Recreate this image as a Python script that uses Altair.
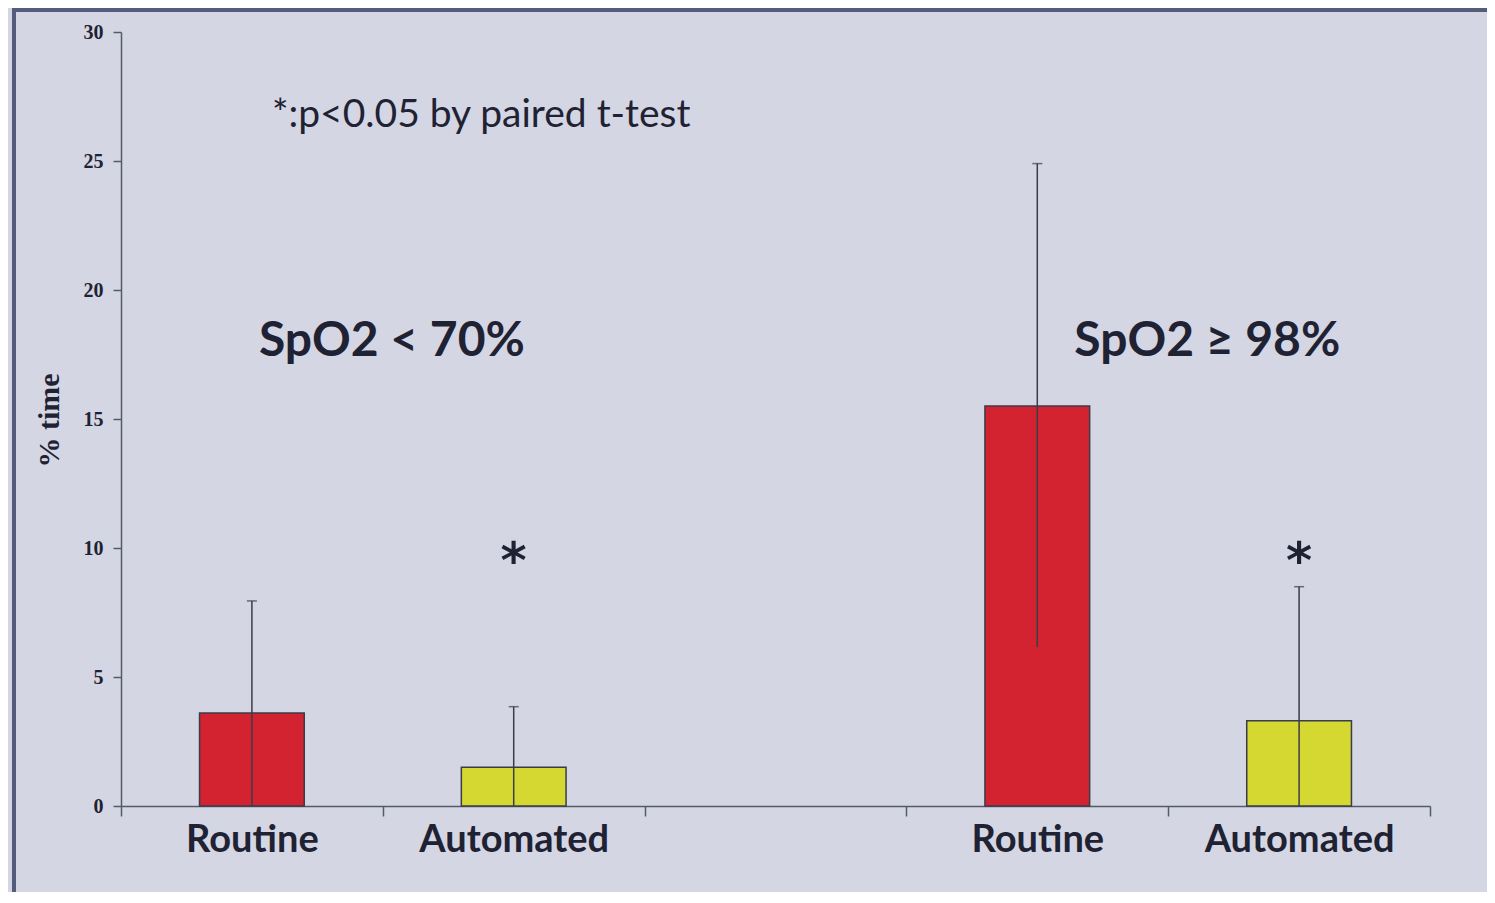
import altair as alt
import pandas as pd

# ---- data ----
cat_ids = ["R1", "A1", "G", "R2", "A2"]
bar_cats = ["R1", "A1", "R2", "A2"]
bar_groups = ["Routine", "Automated", "Routine", "Automated"]
means = [3.6, 1.5, 15.5, 3.3]
err_lo = [0.0, 0.0, 6.15, 0.0]
err_hi = [7.95, 3.85, 24.9, 8.5]

star_cats = ["A1", "A2"]
star_y = [9.9, 9.9]

left_label = ["SpO2 < 70%"]
left_cat = ["R1"]
right_label = ["SpO2 \u2265 98%"]
right_cat = ["R2"]
label_y = [18.0]

note_text = ["*:p<0.05 by paired t-test"]
note_cat = ["R1"]
note_y = [26.8]

BG = "#D4D6E3"
INK = "#1F2233"
AXIS = "#555A6A"

bars_df = pd.DataFrame({"cat": bar_cats, "group": bar_groups, "mean": means,
                        "lo": err_lo, "hi": err_hi})
stars_df = pd.DataFrame({"cat": star_cats, "y": star_y})
lab_l_df = pd.DataFrame({"cat": left_cat, "text": left_label, "y": label_y})
lab_r_df = pd.DataFrame({"cat": right_cat, "text": right_label, "y": label_y})
note_df = pd.DataFrame({"cat": note_cat, "text": note_text, "y": note_y})

x_scale = alt.Scale(domain=cat_ids, paddingInner=0, paddingOuter=0)
y_scale = alt.Scale(domain=[0, 30], nice=False)

label_expr = ("datum.value == 'R1' || datum.value == 'R2' ? 'Routine' : "
              "(datum.value == 'A1' || datum.value == 'A2' ? 'Automated' : '')")

x_enc = alt.X("cat:N", scale=x_scale, sort=cat_ids,
              axis=alt.Axis(title=None, labelExpr=label_expr, tickBand="extent",
                            labelFont="Lato", labelFontWeight="bold", labelFontSize=38,
                            labelColor=INK, labelPadding=5, tickSize=10, labelLimit=0,
                            tickColor=AXIS, domainColor=AXIS, tickWidth=1.5,
                            domainWidth=1.5, labelAngle=0))
y_enc = alt.Y("mean:Q", scale=y_scale,
              axis=alt.Axis(title="% time", values=[0, 5, 10, 15, 20, 25, 30],
                            grid=False, labelFont="Liberation Serif",
                            labelFontWeight="bold", labelFontSize=20,
                            labelColor=INK, labelPadding=10, tickSize=8,
                            tickColor=AXIS, domainColor=AXIS, tickWidth=1.5,
                            domainWidth=1.5, titleFont="Liberation Serif",
                            titleFontWeight="bold", titleFontSize=30,
                            titleColor=INK, titleX=-57, titleY=388,
                            titleBaseline="bottom"))

base = alt.Chart(bars_df)

bars = base.mark_bar(width={"band": 0.4}, stroke="#3A3C4A", strokeWidth=1.5).encode(
    x=x_enc,
    y=y_enc,
    color=alt.Color("group:N", scale=alt.Scale(domain=["Routine", "Automated"],
                                               range=["#D42330", "#D5D831"]),
                    legend=None),
)

err = base.mark_rule(color="#3A3C4A", strokeWidth=1.5).encode(
    x=alt.X("cat:N", scale=x_scale, sort=cat_ids),
    y=alt.Y("lo:Q", scale=y_scale),
    y2="hi:Q",
)

caps = base.mark_tick(color="#3A3C4A", size=10, thickness=1.5, orient="horizontal").encode(
    x=alt.X("cat:N", scale=x_scale, sort=cat_ids),
    y=alt.Y("hi:Q", scale=y_scale),
)

stars = alt.Chart(stars_df).mark_text(text="*", font="DejaVu Sans", fontWeight="bold",
                                      fontSize=50, color=INK, baseline="middle", dy=12).encode(
    x=alt.X("cat:N", scale=x_scale, sort=cat_ids),
    y=alt.Y("y:Q", scale=y_scale),
)

lab_l = alt.Chart(lab_l_df).mark_text(font="Lato", fontWeight="bold", fontSize=48,
                                      color=INK, baseline="middle", align="center",
                                      dx=140).encode(
    x=alt.X("cat:N", scale=x_scale, sort=cat_ids),
    y=alt.Y("y:Q", scale=y_scale),
    text="text:N",
)

lab_r = alt.Chart(lab_r_df).mark_text(font="Lato", fontWeight="bold", fontSize=48,
                                      color=INK, baseline="middle", align="center",
                                      dx=170).encode(
    x=alt.X("cat:N", scale=x_scale, sort=cat_ids),
    y=alt.Y("y:Q", scale=y_scale),
    text="text:N",
)

note = alt.Chart(note_df).mark_text(font="Lato", fontSize=39, color=INK,
                                    baseline="middle", align="left", dx=20).encode(
    x=alt.X("cat:N", scale=x_scale, sort=cat_ids),
    y=alt.Y("y:Q", scale=y_scale),
    text="text:N",
)

frame_df = pd.DataFrame({"k": [0]})
frame_left = alt.Chart(frame_df).mark_rule(color="#555B7A", strokeWidth=4).encode(
    x=alt.value(-107), y=alt.value(-24), y2=alt.value(900))
frame_top = alt.Chart(frame_df).mark_rule(color="#555B7A", strokeWidth=4).encode(
    x=alt.value(-109), x2=alt.value(1400), y=alt.value(-22))

chart = alt.layer(frame_left, frame_top, bars, err, caps, stars, lab_l, lab_r, note).properties(
    width=1309, height=774,
    background=BG,
    padding={"left": 113, "top": 24, "right": 57, "bottom": 86},
    autosize=alt.AutoSizeParams(type="none"),
).configure_view(stroke=None)

chart.save("out.html", embed_options={"renderer": "svg", "actions": False})
